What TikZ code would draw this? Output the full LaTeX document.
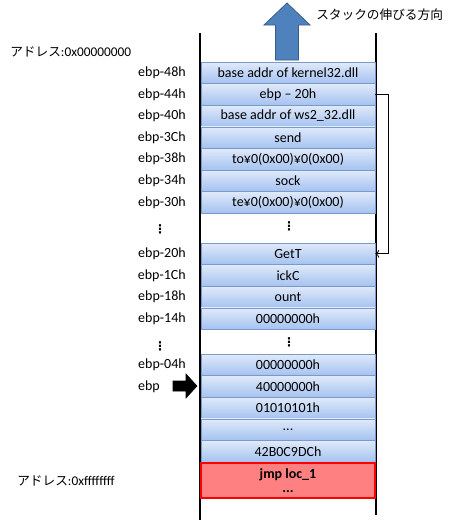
\documentclass[tikz,border=0pt]{standalone}
\usepackage{fontspec}
\setmainfont{Carlito}
\newfontfamily\jpfont{Noto Sans CJK JP}
\newfontfamily\symfont{DejaVu Sans}
\usepackage{tikz}
\usetikzlibrary{arrows.meta, calc}

\definecolor{cellTop}{RGB}{224,234,250}
\definecolor{cellBot}{RGB}{164,194,240}
\definecolor{cellLine}{RGB}{124,154,200}
\definecolor{growBlue}{RGB}{79,129,189}
\definecolor{growEdge}{RGB}{56,93,138}
\definecolor{codeRed}{RGB}{255,128,128}

\begin{document}
\begin{tikzpicture}[
  x=0.75pt, y=-0.75pt,
  cell/.style={draw=cellLine, top color=cellTop, bottom color=cellBot,
               minimum width=130.5pt, minimum height=16.2pt,
               inner sep=0pt, font=\fontsize{10.5}{11}\selectfont},
  gap/.style={inner sep=0pt, font=\symfont\fontsize{9}{10}\selectfont\bfseries},
  code/.style={draw=red, line width=1.2pt, fill=codeRed,
               minimum width=130.5pt, minimum height=26pt,
               inner sep=0pt, align=center,
               font=\fontsize{10.5}{11}\selectfont\bfseries},
  offset/.style={anchor=east, inner sep=0pt, font=\fontsize{10.5}{11}\selectfont},
  addr/.style={anchor=west, inner sep=0pt, font=\fontsize{10}{11}\selectfont},
  wall/.style={line width=1pt},
  link/.style={-{To[length=3pt,width=6pt]}, semithick}
]
\useasboundingbox (0,0) rectangle (450,525);

% stack walls
\draw[wall] (200,33) -- (200,520);
\draw[wall] (376,33) -- (376,515);

% growth direction
\draw[fill=growBlue, draw=growEdge, line width=0.6pt]
  (275.5,60) -- (275.5,25) -- (264,25) -- (287,3) -- (310,25)
  -- (298.5,25) -- (298.5,60) -- cycle;
\node[addr] (grow) at (316,15) {\jpfont\fontsize{9.5}{11}\selectfont スタックの伸びる方向};

% address ends
\node[addr] (low) at (10,52) {{\jpfont\fontsize{9.5}{11}\selectfont アドレス}:0x00000000};
\node[addr] (high) at (17,481) {{\jpfont\fontsize{9.5}{11}\selectfont アドレス}:0xffffffff};

% stack cells
\node[cell] (r48) at (288,72.8)  {base addr of kernel32.dll};
\node[cell] (r44) at (288,94.4)  {ebp -- 20h};
\node[cell] (r40) at (288,116)   {base addr of ws2\_32.dll};
\node[cell] (r3C) at (288,137.6) {send};
\node[cell] (r38) at (288,159.2) {to¥0(0x00)¥0(0x00)};
\node[cell] (r34) at (288,180.8) {sock};
\node[cell] (r30) at (288,202.4) {te¥0(0x00)¥0(0x00)};
\node[gap]  (g1)  at (289,226)   {⋮};
\node[cell] (r20) at (288,253.8) {GetT};
\node[cell] (r1C) at (288,275.4) {ickC};
\node[cell] (r18) at (288,297)   {ount};
\node[cell] (r14) at (288,318.6) {00000000h};
\node[gap]  (g2)  at (289,342)   {⋮};
\node[cell] (r04) at (288,364.8) {00000000h};
\node[cell] (r00) at (288,386.4) {40000000h};
\node[cell] (p1)  at (288,408)   {01010101h};
\node[cell] (p2)  at (288,429.6) {...};
\node[cell] (p3)  at (288,451.2) {42B0C9DCh};
\node[code] (jmp) at (288,480.5) {jmp loc\_1\\...};

% offsets from ebp
\node[offset] (l48) at (186,72.8)  {ebp-48h};
\node[offset] (l44) at (186,94.4)  {ebp-44h};
\node[offset] (l40) at (186,116)   {ebp-40h};
\node[offset] (l3C) at (186,137.6) {ebp-3Ch};
\node[offset] (l38) at (186,159.2) {ebp-38h};
\node[offset] (l34) at (186,180.8) {ebp-34h};
\node[offset] (l30) at (186,202.4) {ebp-30h};
\node[gap]    (lg1) at (160,229)   {⋮};
\node[offset] (l20) at (186,253.8) {ebp-20h};
\node[offset] (l1C) at (186,275.4) {ebp-1Ch};
\node[offset] (l18) at (186,297)   {ebp-18h};
\node[offset] (l14) at (186,318.6) {ebp-14h};
\node[gap]    (lg2) at (160,346)   {⋮};
\node[offset] (l04) at (186,364.8) {ebp-04h};
\node[offset] (l00) at (160,386.4) {ebp};

% ebp marker
\draw[fill=black] (173,381) -- (186,381) -- (186,374) -- (197,386)
  -- (186,398) -- (186,391) -- (173,391) -- cycle;

% pointer to the string on the stack
\draw[link] (r44.east) -- ++(13,0) |- (r20.east);

\end{tikzpicture}
\end{document}
